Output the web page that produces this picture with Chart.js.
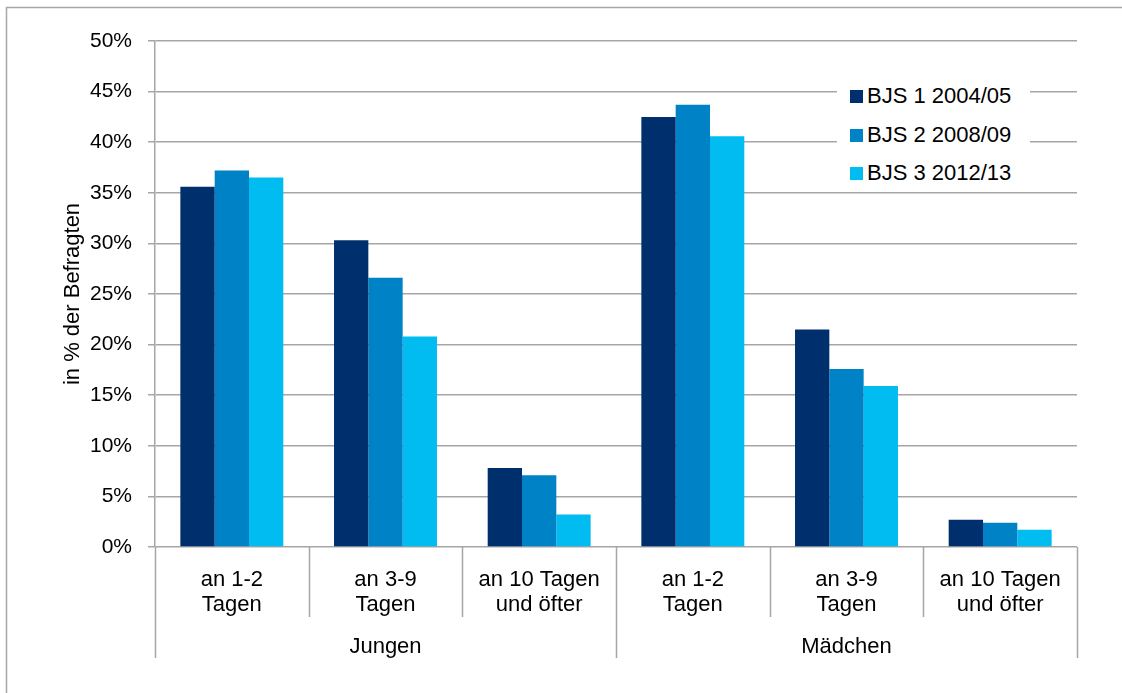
<!DOCTYPE html>
<html>
<head>
<meta charset="utf-8">
<script src="https://cdn.jsdelivr.net/npm/chart.js@4.4.0/dist/chart.umd.min.js"></script>
<style>
body { margin: 0; background: #fff; }
#wrap { position: relative; width: 1122px; height: 693px; }
#legend { position: absolute; left: 837px; top: 74px; width: 193px; height: 118px; background: #fff;
  font-family: "Liberation Sans", Arial, sans-serif; font-size: 22px; color: #000; }
.item { position: absolute; left: 13px; height: 26px; line-height: 26px; white-space: nowrap; }
.sw { display: inline-block; width: 13px; height: 13px; margin-right: 4px; vertical-align: 0px; }
</style>
</head>
<body>
<div id="wrap">
  <canvas id="chart" width="1122" height="693"></canvas>
  <div id="legend"></div>
</div>
<script>
var groups = ["Jungen", "Mädchen"];
var categories = [
    ["an 1-2", "Tagen"], ["an 3-9", "Tagen"], ["an 10 Tagen", "und öfter"],
    ["an 1-2", "Tagen"], ["an 3-9", "Tagen"], ["an 10 Tagen", "und öfter"]
];
var seriesNames = ["BJS 1 2004/05", "BJS 2 2008/09", "BJS 3 2012/13"];
var bjs1 = [35.6, 30.3, 7.8, 42.5, 21.5, 2.7];
var bjs2 = [37.2, 26.6, 7.1, 43.7, 17.6, 2.4];
var bjs3 = [36.5, 20.8, 3.2, 40.6, 15.9, 1.7];
var colors = ["#002f6e", "#0082c6", "#00bcf0"];
var yMax = 50, yStep = 5;

var gridColor = "#a6a6a6";
Chart.defaults.font.family = '"Liberation Sans", Arial, sans-serif';
Chart.defaults.font.size = 21;
Chart.defaults.color = "#000";

// category separators below the axis + outer frame
var separators = {
    id: "separators",
    beforeDraw: function(chart) {
        var ctx = chart.ctx;
        ctx.save();
        ctx.strokeStyle = gridColor;
        ctx.lineWidth = 1.5;
        ctx.beginPath();
        ctx.moveTo(6.5, 700);
        ctx.lineTo(6.5, 7.5);
        ctx.lineTo(1130, 7.5);
        ctx.stroke();
        ctx.restore();
    },
    afterDraw: function(chart) {
        var ctx = chart.ctx, x = chart.scales.x, x2 = chart.scales.x2;
        var n = categories.length;
        var step = (x.right - x.left) / n;
        var perGroup = n / groups.length;
        ctx.save();
        ctx.strokeStyle = gridColor;
        ctx.lineWidth = 1.5;
        for (var i = 0; i <= n; i++) {
            var px = Math.round(x.getPixelForValue(0) - step / 2 + i * step) + 0.5;
            var bottom = (i % perGroup === 0) ? x2.bottom : x.bottom;
            ctx.beginPath();
            ctx.moveTo(px, x.top);
            ctx.lineTo(px, bottom);
            ctx.stroke();
        }
        ctx.restore();
    }
};

var datasets = seriesNames.map(function(name, i) {
    return {
        label: name,
        data: [bjs1, bjs2, bjs3][i],
        backgroundColor: colors[i],
        categoryPercentage: 0.67,
        barPercentage: 1.0
    };
});

var ctx = document.getElementById("chart").getContext("2d");
var barChart = new Chart(ctx, {
    type: "bar",
    data: { labels: categories, datasets: datasets },
    options: {
        responsive: false,
        animation: false,
        layout: { padding: { left: 55, right: 45, top: 41, bottom: 35 } },
        plugins: { legend: { display: false }, tooltip: { enabled: false } },
        scales: {
            x: {
                position: "bottom",
                grid: { display: false },
                border: { display: false },
                ticks: { autoSkip: false, maxRotation: 0, padding: 12, font: { size: 22, lineHeight: 1.14 } },
                afterFit: function(s) { s.height = 70; }
            },
            x2: {
                type: "category",
                labels: groups,
                position: "bottom",
                offset: true,
                grid: { display: false },
                border: { display: false },
                ticks: { maxRotation: 0, padding: 9, font: { size: 22 } },
                afterFit: function(s) { s.height = 41; }
            },
            y: {
                min: 0,
                max: yMax,
                ticks: {
                    stepSize: yStep,
                    padding: 16,
                    callback: function(v) { return v + "%"; }
                },
                grid: { color: gridColor, lineWidth: 1.5, tickLength: 7 },
                border: { color: gridColor, width: 1.5 },
                title: { display: true, text: "in % der Befragten", font: { size: 22 }, padding: { top: 5, bottom: 0 } },
                afterFit: function(s) { s.width = 100; }
            }
        }
    },
    plugins: [separators]
});

// legend inside the plot area
var legend = document.getElementById("legend");
var rowTops = [9, 48, 86];
seriesNames.forEach(function(name, i) {
    var item = document.createElement("div");
    item.className = "item";
    item.style.top = rowTops[i] + "px";
    item.innerHTML = '<span class="sw" style="background:' + colors[i] + '"></span>' + name;
    legend.appendChild(item);
});
</script>
</body>
</html>
